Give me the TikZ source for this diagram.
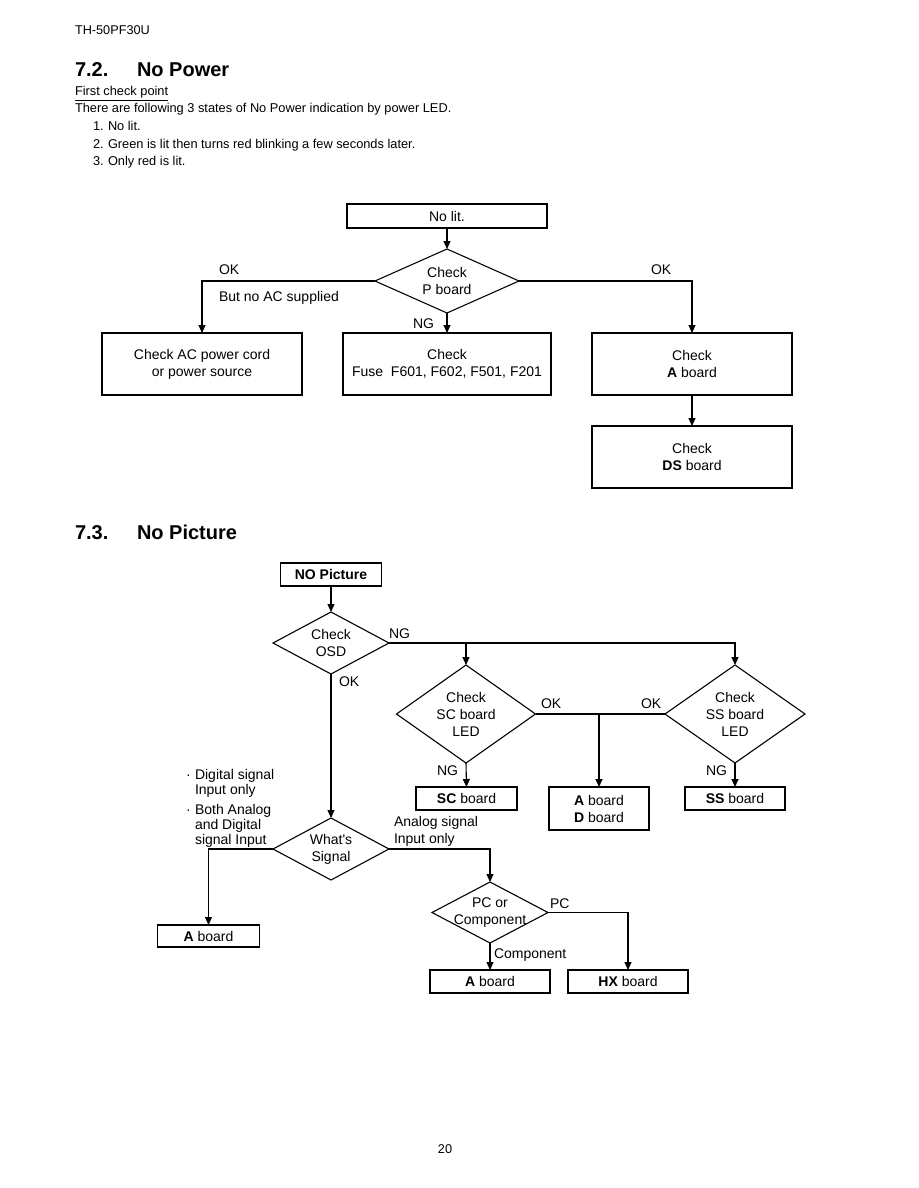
\documentclass[tikz,border=0pt]{standalone}
\usepackage{fontspec}
\setmainfont{Liberation Sans}
\usetikzlibrary{arrows.meta}
\newcommand{\myfs}[2]{\fontsize{#1}{#2}\selectfont}
\begin{document}
\begin{tikzpicture}[x=1pt,y=-1pt,
 every node/.style={inner sep=0pt, outer sep=0pt},
 ln/.style={line width=1.1pt},
 arr/.style={line width=1.1pt, -{Triangle[length=8pt,width=7pt]}},
 rbox/.style={draw, line width=1.1pt, align=center, font=\myfs{14}{17}},
 dtext/.style={align=center, font=\myfs{14}{17}},
 lbl/.style={anchor=base west, font=\myfs{14}{17}},
 body/.style={anchor=base west, font=\myfs{12.8}{15}},
 ttl/.style={anchor=base west, font=\myfs{20}{24}\bfseries},
]
\useasboundingbox[fill=white] (0,0) rectangle (918,1188);

% header texts
\node[anchor=base west, font=\myfs{12.7}{15}] (hdr) at (75,34.5) {TH-50PF30U};
\node[ttl] (t72n) at (75,77) {7.2.};
\node[ttl] (t72) at (137,77) {No Power};
\node[body] (fcp) at (75,96) {\underline{First check point}};
\node[body] (intro) at (75,113) {There are following 3 states of No Power indication by power LED.};
\node[body] (n1) at (93,131) {1.};
\node[body] (s1) at (108,131) {No lit.};
\node[body] (n2) at (93,148) {2.};
\node[body] (s2) at (108,148) {Green is lit then turns red blinking a few seconds later.};
\node[body] (n3) at (93,165) {3.};
\node[body] (s3) at (108,165) {Only red is lit.};

% ---------- flowchart 1 ----------
\node[rbox, minimum width=200, minimum height=24] (nolit) at (447,216) {No lit.};
\node[dtext, minimum width=144, minimum height=64] (pb) at (447,281) {Check\\P board};
\draw[ln] (pb.north)--(pb.east)--(pb.south)--(pb.west)--cycle;
\node[rbox, minimum width=200, minimum height=62] (cac) at (202,364) {Check AC power cord\\or power source};
\node[rbox, minimum width=208, minimum height=62] (fuse) at (447,364) {Check\\Fuse\ \ F601, F602, F501, F201};
\node[rbox, minimum width=200, minimum height=62] (ca) at (692,364) {Check\\\textbf{A} board};
\node[rbox, minimum width=200, minimum height=62] (ds) at (692,457) {Check\\\textbf{DS} board};

\draw[arr] (nolit.south) -- (pb.north);
\draw[arr] (pb.west) -| (cac.north);
\draw[arr] (pb.south) -- (fuse.north);
\draw[arr] (pb.east) -| (ca.north);
\draw[arr] (ca.south) -- (ds.north);

\node[lbl] (okl) at (219,274) {OK};
\node[lbl] (bnac) at (219,301) {But no AC supplied};
\node[lbl] (ng1) at (413,328) {NG};
\node[lbl] (okr) at (651,274) {OK};

% ---------- section 7.3 ----------
\node[ttl] (t73n) at (75,539) {7.3.};
\node[ttl] (t73) at (137,539) {No Picture};

\node[rbox, minimum width=101, minimum height=23] (np) at (331,574.5) {\textbf{NO Picture}};
\node[dtext, minimum width=116, minimum height=62] (osd) at (331,643) {Check\\OSD};
\draw[ln] (osd.north)--(osd.east)--(osd.south)--(osd.west)--cycle;
\node[dtext, minimum width=139, minimum height=98] (sc) at (466,714) {Check\\SC board\\LED};
\draw[ln] (sc.north)--(sc.east)--(sc.south)--(sc.west)--cycle;
\node[dtext, minimum width=140, minimum height=98] (ss) at (735,714) {Check\\SS board\\LED};
\draw[ln] (ss.north)--(ss.east)--(ss.south)--(ss.west)--cycle;
\node[rbox, minimum width=101, minimum height=23] (scb) at (466.5,798.5) {\textbf{SC} board};
\node[rbox, minimum width=100, minimum height=43] (adb) at (599,808.5) {\textbf{A} board\\\textbf{D} board};
\node[rbox, minimum width=100, minimum height=23] (ssb) at (735,798.5) {\textbf{SS} board};
\node[dtext, minimum width=116, minimum height=62] (ws) at (331,849) {What\textquotesingle s\\Signal};
\draw[ln] (ws.north)--(ws.east)--(ws.south)--(ws.west)--cycle;
\node[rbox, minimum width=102, minimum height=22] (ab1) at (208.5,936) {\textbf{A} board};
\node[dtext, minimum width=116, minimum height=61] (pc) at (490,912.5) {PC or\\Component};
\draw[ln] (pc.north)--(pc.east)--(pc.south)--(pc.west)--cycle;
\node[rbox, minimum width=120, minimum height=23] (ab2) at (490,981.5) {\textbf{A} board};
\node[rbox, minimum width=120, minimum height=23] (hx) at (628,981.5) {\textbf{HX} board};

\draw[arr] (np.south) -- (osd.north);
\draw[arr] (osd.east) -| (sc.north);
\draw[arr] (osd.east) -| (ss.north);
\draw[ln] (sc.east) -- (ss.west);
\draw[arr] (sc.east -| adb.north) -- (adb.north);
\draw[arr] (sc.south) -- (scb.north);
\draw[arr] (ss.south) -- (ssb.north);
\draw[arr] (osd.south) -- (ws.north);
\draw[arr] (ws.west) -| (ab1.north);
\draw[arr] (ws.east) -| (pc.north);
\draw[arr] (pc.east) -| (hx.north);
\draw[arr] (pc.south) -- (ab2.north);

\node[lbl] (ng2) at (389,638) {NG};
\node[lbl] (ok2) at (339,686) {OK};
\node[lbl] (ok3) at (541,708) {OK};
\node[lbl] (ok4) at (641,708) {OK};
\node[lbl] (ng3) at (437,775) {NG};
\node[lbl] (ng4) at (706,775) {NG};
\node[lbl] (b1) at (186,779) {·};
\node[lbl] (d1) at (195,779) {Digital signal};
\node[lbl] (d2) at (195,794) {Input only};
\node[lbl] (b2) at (186,814) {·};
\node[lbl] (d3) at (195,814) {Both Analog};
\node[lbl] (d4) at (195,829) {and Digital};
\node[lbl] (d5) at (195,844) {signal Input};
\node[lbl] (an1) at (394,826) {Analog signal};
\node[lbl] (an2) at (394,843) {Input only};
\node[lbl] (pcl) at (550,908) {PC};
\node[lbl] (cmp) at (494,958) {Component};

\node[anchor=base, font=\myfs{12.7}{15}] (pg) at (445,1153.5) {20};
\end{tikzpicture}
\end{document}
